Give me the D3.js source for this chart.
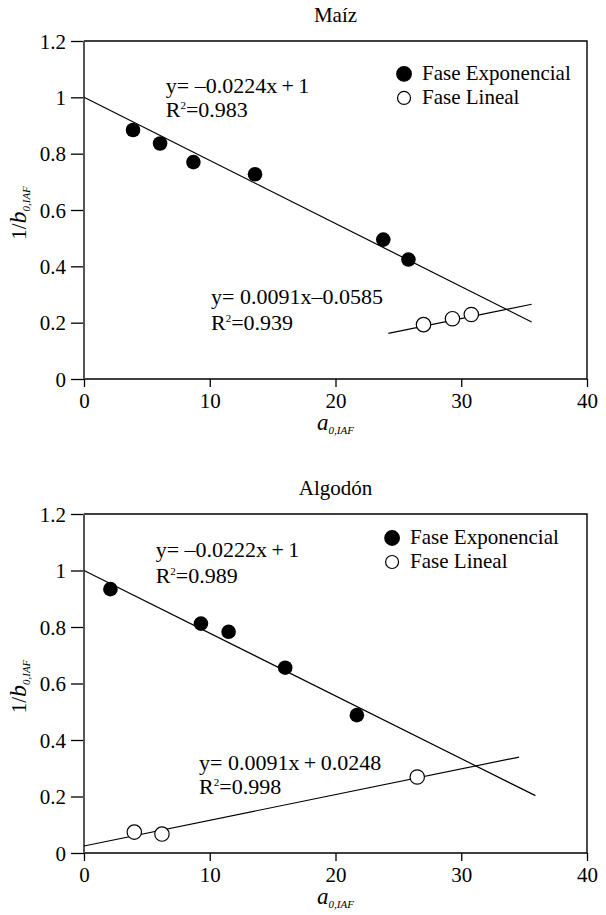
<!DOCTYPE html>
<html lang="es">
<head>
<meta charset="UTF-8">
<title>Maíz y Algodón</title>
<script src="https://d3js.org/d3.v7.min.js"></script>
<style>
    body { margin: 0; background: #fff; }
    svg text { font-family: "Liberation Serif", "Times New Roman", serif; fill: #000; }
</style>
</head>
<body>
<div id="chart"></div>
<script>
// ejes
const xTicks = [0, 10, 20, 30, 40];
const yTicks = [0, 0.2, 0.4, 0.6, 0.8, 1, 1.2];

// Maíz
const maizExpX = [3.9, 6.05, 8.7, 13.6, 23.8, 25.8];
const maizExpY = [0.884, 0.836, 0.770, 0.727, 0.495, 0.424];
const maizLinX = [27.0, 29.3, 30.8];
const maizLinY = [0.193, 0.214, 0.229];
const maizExpFit = [-0.0224, 1, 0, 35.6];     // pendiente, intercepto, x inicio, x fin
const maizLinFit = [0.0091, -0.0585, 24.2, 35.6];
const maizEq = ["y=  \u20130.0224x\u2009+\u20091", "0.983", "y= 0.0091x\u20130.0585", "0.939"];

// Algodón
const algExpX = [2.1, 9.3, 11.5, 16.0, 21.7];
const algExpY = [0.934, 0.812, 0.783, 0.656, 0.488];
const algLinX = [4.0, 6.2, 26.5];
const algLinY = [0.074, 0.067, 0.269];
const algExpFit = [-0.0222, 1, 0, 35.9];
const algLinFit = [0.0091, 0.0248, 0, 34.6];
const algEq = ["y=  \u20130.0222x\u2009+\u20091", "0.989", "y= 0.0091x\u2009+\u20090.0248", "0.998"];

const legendNames = ["Fase Exponencial", "Fase Lineal"];

const serif = "'Liberation Serif', 'Times New Roman', serif";

const svg = d3.select("#chart").append("svg")
    .attr("width", 606)
    .attr("height", 915);

function drawPanel(opt) {
    const left = 84, right = 587;
    const x = d3.scaleLinear().domain([0, 40]).range([left, right]);
    const y = d3.scaleLinear().domain([0, 1.2]).range([opt.bottom, opt.top]);
    const g = svg.append("g");

    // titulo
    g.append("text")
        .attr("x", (left + right) / 2)
        .attr("y", opt.top - 19)
        .attr("text-anchor", "middle")
        .style("font-size", "21px")
        .text(opt.title);

    // eje y
    const ya = g.append("g")
        .attr("transform", `translate(${left},0)`)
        .attr("font-family", serif)
        .call(d3.axisLeft(y).tickValues(yTicks).tickSize(13).tickPadding(5).tickFormat(d => String(d)));
    ya.select(".domain").remove();
    ya.selectAll("text").style("font-size", "21px").attr("dy", "0.34em");
    ya.selectAll("line").attr("stroke", "#000").attr("stroke-width", 1.3);

    // eje x
    const xa = g.append("g")
        .attr("transform", `translate(0,${opt.bottom})`)
        .attr("font-family", serif)
        .call(d3.axisBottom(x).tickValues(xTicks).tickSize(8).tickPadding(6));
    xa.select(".domain").remove();
    xa.selectAll("text").style("font-size", "21px");
    xa.selectAll("line").attr("stroke", "#000").attr("stroke-width", 1.3);

    // marco
    g.append("path")
        .attr("d", `M${left},${y(1.2)}H${right}V${y(0)}H${left}`)
        .attr("fill", "none")
        .attr("stroke", "#000")
        .attr("stroke-width", 1.4);
    g.append("line")
        .attr("x1", left).attr("x2", left)
        .attr("y1", y(1.2)).attr("y2", y(0))
        .attr("stroke", "#555")
        .attr("stroke-width", 2);

    // rectas de ajuste
    [opt.expFit, opt.linFit].forEach(f => {
        g.append("line")
            .attr("x1", x(f[2])).attr("y1", y(f[0] * f[2] + f[1]))
            .attr("x2", x(f[3])).attr("y2", y(f[0] * f[3] + f[1]))
            .attr("stroke", "#000")
            .attr("stroke-width", 1.2);
    });

    // puntos
    g.selectAll(".exp")
        .data(opt.expX.map((v, i) => [v, opt.expY[i]]))
        .enter().append("circle")
        .attr("class", "exp")
        .attr("cx", d => x(d[0]))
        .attr("cy", d => y(d[1]))
        .attr("r", 7.3)
        .attr("fill", "#000");

    g.selectAll(".lin")
        .data(opt.linX.map((v, i) => [v, opt.linY[i]]))
        .enter().append("circle")
        .attr("class", "lin")
        .attr("cx", d => x(d[0]))
        .attr("cy", d => y(d[1]))
        .attr("r", 7.2)
        .attr("fill", "#fff")
        .attr("stroke", "#000")
        .attr("stroke-width", 1.2);

    // ecuaciones
    function equation(pos, line1, r2) {
        g.append("text")
            .attr("x", x(pos[0])).attr("y", y(pos[1]))
            .style("font-size", "22px")
            .text(line1);
        const t = g.append("text")
            .attr("x", x(pos[0])).attr("y", y(pos[2]))
            .style("font-size", "22px");
        t.append("tspan").text("R");
        t.append("tspan").attr("dy", -8).style("font-size", "11px").text("2");
        t.append("tspan").attr("dy", 8).text("=" + r2);
    }
    equation(opt.eq1Pos, opt.eq[0], opt.eq[1]);
    equation(opt.eq2Pos, opt.eq[2], opt.eq[3]);

    // leyenda
    legendNames.forEach((name, i) => {
        const ly = y(opt.legPos[1]) + i * 24;
        g.append("circle")
            .attr("cx", x(opt.legPos[0]))
            .attr("cy", ly)
            .attr("r", i === 0 ? 7.3 : 6.5)
            .attr("fill", i === 0 ? "#000" : "#fff")
            .attr("stroke", "#000")
            .attr("stroke-width", 1.2);
        g.append("text")
            .attr("x", x(opt.legPos[0]) + 18)
            .attr("y", ly + 6)
            .style("font-size", "21px")
            .text(name);
    });

    // etiqueta x
    const xl = g.append("text")
        .attr("x", (left + right) / 2)
        .attr("y", opt.bottom + 51)
        .attr("text-anchor", "middle")
        .style("font-size", "23px")
        .style("font-style", "italic");
    xl.append("tspan").text("a");
    xl.append("tspan").attr("dy", 4).style("font-size", "11px").text("0,IAF");

    // etiqueta y
    const yl = g.append("text")
        .attr("transform", `translate(25.5,${(opt.top + opt.bottom) / 2 + 3}) rotate(-90)`)
        .attr("text-anchor", "middle")
        .style("font-size", "21px");
    yl.append("tspan").text("1/");
    yl.append("tspan").style("font-style", "italic").style("font-size", "24px").text("b");
    yl.append("tspan").attr("dy", 4).style("font-style", "italic").style("font-size", "11px").text("0,IAF");
}

drawPanel({
    title: "Maíz", top: 41, bottom: 379,
    expX: maizExpX, expY: maizExpY, linX: maizLinX, linY: maizLinY,
    expFit: maizExpFit, linFit: maizLinFit, eq: maizEq,
    eq1Pos: [6.5, 1.015, 0.93], eq2Pos: [10.1, 0.266, 0.174], legPos: [25.45, 1.083]
});

drawPanel({
    title: "Algodón", top: 514, bottom: 853,
    expX: algExpX, expY: algExpY, linX: algLinX, linY: algLinY,
    expFit: algExpFit, linFit: algLinFit, eq: algEq,
    eq1Pos: [5.7, 1.049, 0.956], eq2Pos: [9.15, 0.294, 0.209], legPos: [24.5, 1.115]
});
</script>
</body>
</html>
